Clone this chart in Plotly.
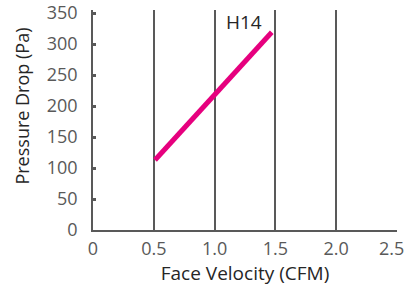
import plotly.graph_objects as go

face_velocity = [0.51, 1.47]
pressure_drop = [113, 319]
series_name = "H14"
x_ticks = [0, 0.5, 1.0, 1.5, 2.0, 2.5]
x_tick_labels = ["0", "0.5", "1.0", "1.5", "2.0", "2.5"]
y_ticks = [0, 50, 100, 150, 200, 250, 300, 350]

FONT = "Open Sans, Noto Sans, sans-serif"
AX = "#595959"
TXT = "#262626"

fig = go.Figure()
fig.add_trace(go.Scatter(x=face_velocity, y=pressure_drop, mode="lines",
                         line=dict(color="#E6007E", width=5), name=series_name,
                         showlegend=False, hoverinfo="skip"))
fig.add_annotation(x=1.24, y=336, text=series_name, showarrow=False,
                   font=dict(family=FONT, size=19, color=TXT))
fig.add_annotation(xref="paper", yref="paper", x=-0.234, y=0.565,
                   xanchor="center", yanchor="middle",
                   text="Pressure Drop (Pa)", textangle=-90, showarrow=False,
                   font=dict(family=FONT, size=18, color=TXT))
# last x tick label is nudged left so it stays inside the picture
fig.add_annotation(x=x_ticks[-1], xref="x", yref="paper", y=0,
                   xanchor="center", yanchor="middle", xshift=-6, yshift=-18,
                   text=x_tick_labels[-1], showarrow=False,
                   font=dict(family=FONT, size=18, color=AX))

fig.update_layout(
    width=406, height=294,
    margin=dict(l=93, r=9, t=10, b=64, autoexpand=False),
    paper_bgcolor="white", plot_bgcolor="white",
    font=dict(family=FONT, size=18, color=AX),
    xaxis=dict(range=[0, 2.5], tickvals=x_ticks,
               ticktext=x_tick_labels[:-1] + [""],
               showgrid=True, gridcolor=AX, gridwidth=1.5,
               showline=True, linecolor=AX, linewidth=1.5,
               zeroline=False, ticks="", ticklabelstandoff=2,
               ticklabeloverflow="allow", automargin=False,
               title=dict(text="Face Velocity (CFM)", standoff=6,
                          font=dict(family=FONT, size=19, color=TXT))),
    yaxis=dict(range=[0, 355], tickvals=y_ticks, showgrid=False,
               showline=True, linecolor=AX, linewidth=1.5, zeroline=False,
               ticks="inside", ticklen=3, tickwidth=3, tickcolor=AX,
               ticklabelstandoff=10, ticklabeloverflow="allow", automargin=False),
)
fig.write_html("out.html", config={"displayModeBar": False},
               post_script="document.body.style.margin='0';"
                           "document.body.style.overflow='hidden';")
